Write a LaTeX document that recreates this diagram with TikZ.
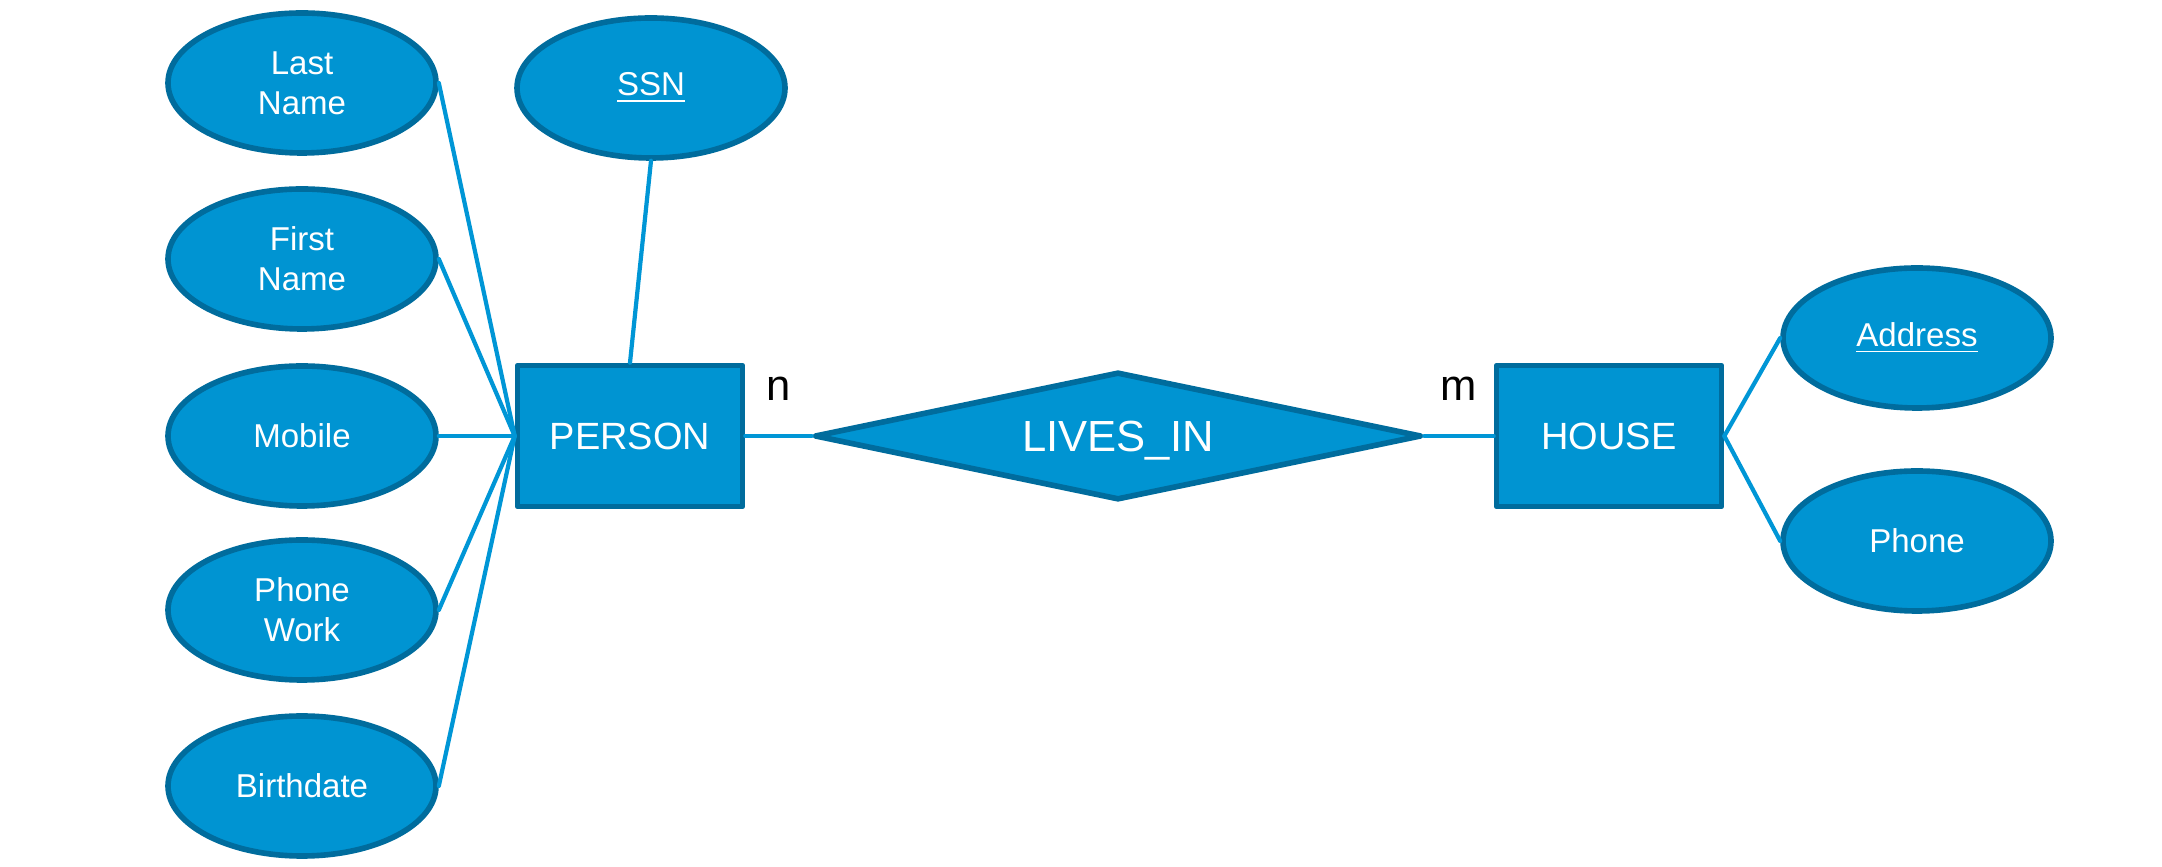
\documentclass[tikz,border=0pt]{standalone}
\usepackage{fontspec}
\setmainfont{Liberation Sans}
\usetikzlibrary{shapes.geometric}
\definecolor{erblue}{RGB}{0,148,210}
\definecolor{erdark}{RGB}{0,108,157}
\definecolor{erline}{RGB}{0,150,214}
\begin{document}
\begin{tikzpicture}[line cap=round,line join=round,x=1.0cm,y=1.0cm,
	attr/.style={ellipse,draw=erdark,fill=erblue,line width=1.6pt,minimum width=2.68cm,minimum height=1.40cm,inner sep=0pt,align=center,text=white,font=\fontsize{9.4}{11.4}\selectfont},
	entity/.style={rectangle,draw=erdark,fill=erblue,line width=1.6pt,minimum width=2.25cm,minimum height=1.41cm,text=white,font=\fontsize{10.8}{13}\selectfont},
	relation/.style={diamond,aspect=4.74,draw=erdark,fill=erblue,line width=1.6pt,minimum width=6.07cm,minimum height=1.28cm,inner sep=0pt,text depth=0pt,text=white,font=\fontsize{12.4}{15}\selectfont},
	conn/.style={draw=erline,line width=1.2pt},
	card/.style={text=black,inner sep=0pt,font=\fontsize{12.4}{15}\selectfont}]
				\useasboundingbox (0,0) rectangle (21.62,-8.67);
				\node[attr] (lname) at (3.02,-0.83) {Last\\Name};
				\node[attr] (fname) at (3.02,-2.59) {First\\Name};
				\node[attr] (mobile) at (3.02,-4.36) {Mobile};
				\node[attr] (pwork) at (3.02,-6.10) {Phone\\Work};
				\node[attr] (bdate) at (3.02,-7.86) {Birthdate};
				\node[attr] (ssn) at (6.51,-0.88) {\underline{SSN}};
				\node[entity] (person) at (6.30,-4.36) {PERSON};
				\node[relation] (livesin) at (11.18,-4.36) {LIVES\_IN};
				\node[entity] (house) at (16.09,-4.36) {HOUSE};
				\node[attr] (address) at (19.17,-3.38) {\underline{Address}};
				\node[attr] (hphone) at (19.17,-5.41) {Phone};
				\node[card] (cardn) at (7.79,-3.89) {n};
				\node[card] (cardm) at (14.59,-3.89) {m};
				\draw[conn] (lname.east) -- (person.west);
				\draw[conn] (fname.east) -- (person.west);
				\draw[conn] (mobile.east) -- (person.west);
				\draw[conn] (pwork.east) -- (person.west);
				\draw[conn] (bdate.east) -- (person.west);
				\draw[conn] (ssn.south) -- (person.north);
				\draw[conn] (person.east) -- (livesin.west);
				\draw[conn] (livesin.east) -- (house.west);
				\draw[conn] (house.east) -- (address.west);
				\draw[conn] (house.east) -- (hphone.west);
			\end{tikzpicture}
\end{document}
